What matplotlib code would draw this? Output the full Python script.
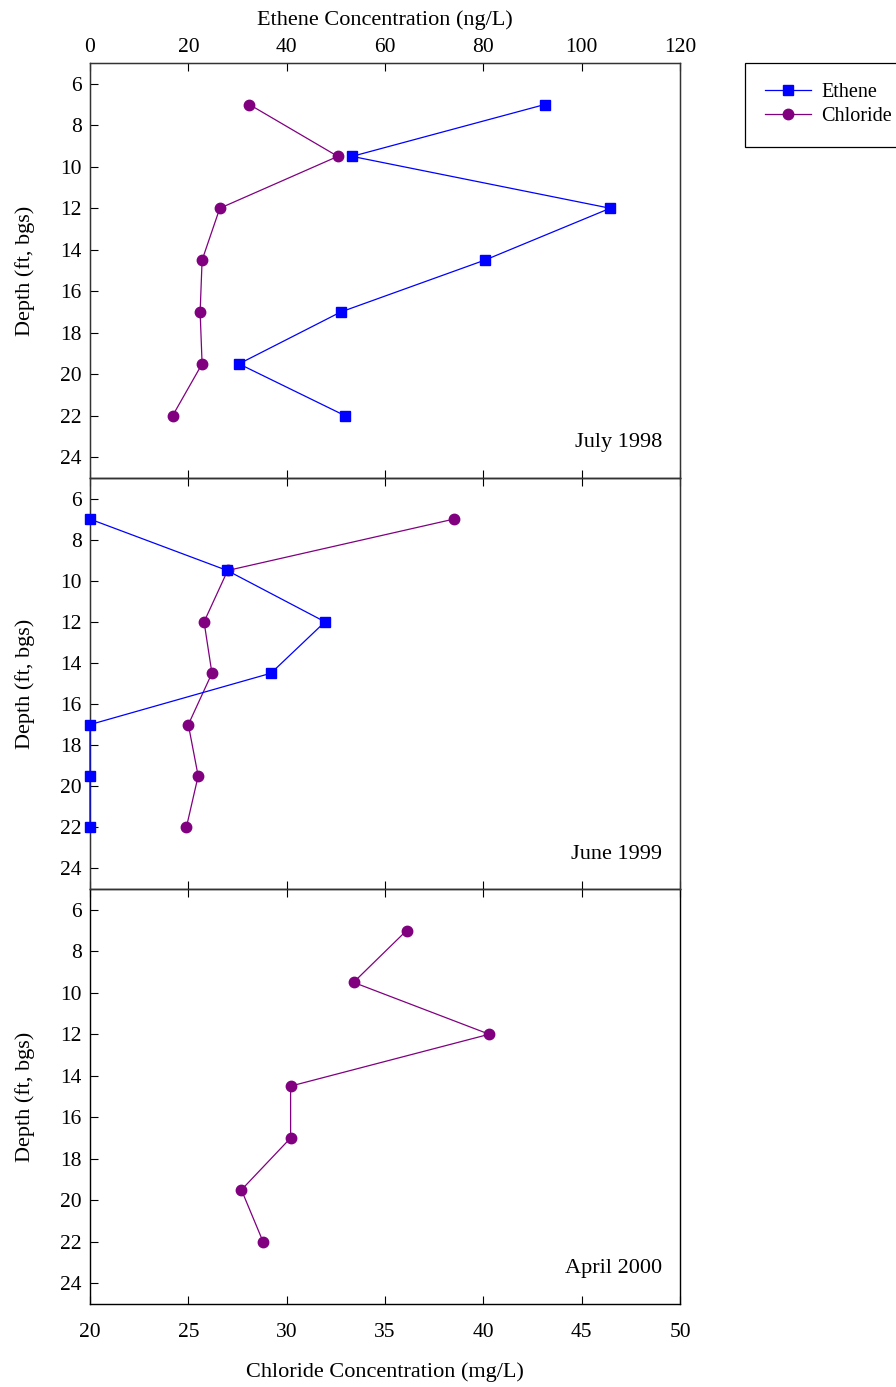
import matplotlib.pyplot as plt
from matplotlib.lines import Line2D

plt.rcParams['font.family'] = ['Liberation Serif', 'DejaVu Serif']

depth = [7, 9.5, 12, 14.5, 17, 19.5, 22]

# July 1998
ethene_1998 = [92.5, 53.3, 105.8, 80.3, 51.0, 30.3, 51.9]
chloride_1998 = [28.1, 32.6, 26.6, 25.7, 25.6, 25.7, 24.2]

# June 1999
ethene_1999 = [0, 27.9, 47.8, 36.8, 0, 0, 0]
chloride_1999 = [38.5, 27.0, 25.8, 26.2, 25.0, 25.5, 24.9]

# April 2000 (no ethene)
chloride_2000 = [36.1, 33.4, 40.3, 30.2, 30.2, 27.7, 28.8]

panels = [
    ("July 1998", ethene_1998, chloride_1998),
    ("June 1999", ethene_1999, chloride_1999),
    ("April 2000", None, chloride_2000),
]

ETHENE_C = '#0000ff'
CHLORIDE_C = '#800080'
TICK_FS = 15.5
LABEL_FS = 16

W, H = 896, 1387
fig = plt.figure(figsize=(W / 100, H / 100), dpi=100)

left, right = 90, 680
edges = [63, 478, 889, 1304]

for i, (label, eth, chl) in enumerate(panels):
    top, bot = edges[i], edges[i + 1]
    ax = fig.add_axes([left / W, 1 - bot / H, (right - left) / W, (bot - top) / H])
    axc = ax.twiny()

    # chloride scale: only labelled on the bottom panel, ticks drawn by ax
    axc.set_xlim(20, 50)
    axc.set_xticks(range(20, 51, 5))
    axc.xaxis.set_ticks_position('bottom')
    axc.xaxis.set_label_position('bottom')
    axc.tick_params(axis='x', length=0, labelbottom=(i == 2), labeltop=False,
                    labelsize=TICK_FS, pad=14)

    # ethene scale
    ax.set_xlim(0, 120)
    ax.set_ylim(25, 5)
    ax.set_yticks(range(6, 25, 2))
    ax.set_xticks(range(0, 121, 20))
    ax.tick_params(axis='both', direction='in', labelsize=TICK_FS, length=6, width=0.8)
    ax.tick_params(axis='x', top=True, bottom=True, labeltop=(i == 0),
                   labelbottom=False, pad=4.5)
    ax.tick_params(axis='y', right=False, pad=6)
    for s in ax.spines.values():
        s.set_linewidth(1.0)
        s.set_color('#333333')

    axc.plot(chl, depth, color=CHLORIDE_C, lw=0.9, marker='o', ms=7.5,
             clip_on=False, zorder=2)
    if eth is not None:
        ax.plot(eth, depth, color=ETHENE_C, lw=0.9, marker='s', ms=6.5,
                clip_on=False, zorder=3)
        ax.set_zorder(axc.get_zorder() + 1)
        ax.patch.set_visible(False)

    ax.set_ylabel("Depth (ft, bgs)", fontsize=LABEL_FS, labelpad=18)
    ax.text(0.97, 0.085, label, transform=ax.transAxes, ha='right', va='center',
            fontsize=LABEL_FS)

    if i == 0:
        ax.xaxis.set_label_position('top')
        ax.set_xlabel("Ethene Concentration (ng/L)", fontsize=LABEL_FS, labelpad=9.5)
    if i == 2:
        axc.set_xlabel("Chloride Concentration (mg/L)", fontsize=LABEL_FS, labelpad=14)

handles = [
    Line2D([], [], color=ETHENE_C, lw=0.9, marker='s', ms=6.5),
    Line2D([], [], color=CHLORIDE_C, lw=0.9, marker='o', ms=7.5),
]
leg = fig.legend(handles, ["Ethene", "Chloride"], loc='upper left',
                 bbox_to_anchor=(745 / W, 1 - 63 / H), fontsize=14.5,
                 fancybox=False, framealpha=1, edgecolor='black',
                 borderpad=1.0, handlelength=2.3, handletextpad=0.5,
                 labelspacing=0.25, borderaxespad=0)
leg.get_frame().set_linewidth(0.9)

fig.savefig("out.png", dpi=100)
